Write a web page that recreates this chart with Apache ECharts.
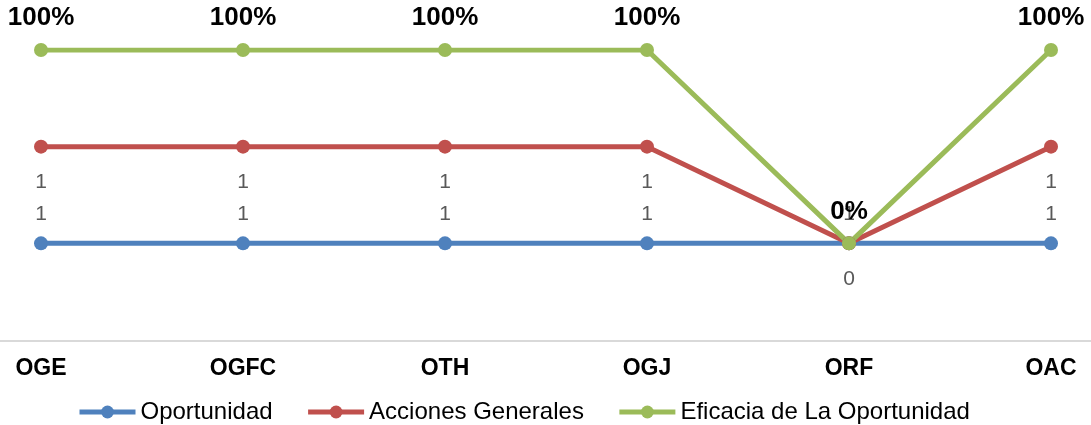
<!DOCTYPE html>
<html>
<head>
<meta charset="utf-8">
<script src="https://cdn.jsdelivr.net/npm/echarts@6/dist/echarts.min.js"></script>
<style>
  html, body { margin: 0; padding: 0; background: #fff; }
  #chart { width: 1091px; height: 425px; }
</style>
</head>
<body>
<div id="chart"></div>
<script>
const categories = ['OGE', 'OGFC', 'OTH', 'OGJ', 'ORF', 'OAC'];
const oportunidad = [1, 1, 1, 1, 1, 1];
const accionesGenerales = [1, 1, 1, 1, 0, 1];
const eficacia = [1, 1, 1, 1, 0, 1]; // shown as percentages

const font = 'Liberation Sans, Arial, sans-serif';

const chart = echarts.init(document.getElementById('chart'));

const lineSeries = (name, data, color, label) => ({
  name: name,
  type: 'line',
  stack: 'total',
  data: data,
  symbol: 'circle',
  symbolSize: 14,
  color: color,
  lineStyle: { color: color, width: 5 },
  itemStyle: { color: color },
  label: label,
  emphasis: { disabled: true }
});

chart.setOption({
  animation: false,
  grid: [
    { left: 41, right: 40, top: 50, bottom: 85 },
    // full-width frame for the baseline
    { left: 0, right: 0, top: 50, bottom: 84 }
  ],
  legend: {
    left: 72,
    top: 395,
    itemWidth: 56,
    itemHeight: 16,
    itemGap: 33,
    lineStyle: { width: 5 },
    textStyle: { fontFamily: font, fontSize: 24, color: '#000' },
    data: ['Oportunidad', 'Acciones Generales', 'Eficacia de La Oportunidad']
  },
  xAxis: [
    {
      type: 'category',
      data: categories,
      boundaryGap: false,
      axisTick: { show: false },
      axisLine: { show: false },
      axisLabel: {
        fontFamily: font,
        fontSize: 23,
        fontWeight: 'bold',
        color: '#000',
        margin: 17
      }
    },
    {
      type: 'category',
      gridIndex: 1,
      data: categories,
      axisTick: { show: false },
      axisLabel: { show: false },
      axisLine: { lineStyle: { color: '#d9d9d9', width: 2 } }
    }
  ],
  yAxis: [
    { type: 'value', min: 0, max: 3, show: false, splitLine: { show: false } },
    { type: 'value', gridIndex: 1, min: 0, max: 3, show: false, splitLine: { show: false } }
  ],
  series: [
    lineSeries('Oportunidad', oportunidad, '#4f81bd', {
      show: true, position: 'top', distance: 12,
      fontFamily: font, fontSize: 21, color: '#595959'
    }),
    lineSeries('Acciones Generales', accionesGenerales, '#c0504d', {
      show: true, position: 'bottom', distance: 18,
      fontFamily: font, fontSize: 21, color: '#595959'
    }),
    lineSeries('Eficacia de La Oportunidad', eficacia, '#9bbb59', {
      show: true, position: 'top', distance: 12,
      fontFamily: font, fontSize: 26, fontWeight: 'bold', color: '#000',
      formatter: p => Math.round(p.value * 100) + '%'
    })
  ]
});
</script>
</body>
</html>
